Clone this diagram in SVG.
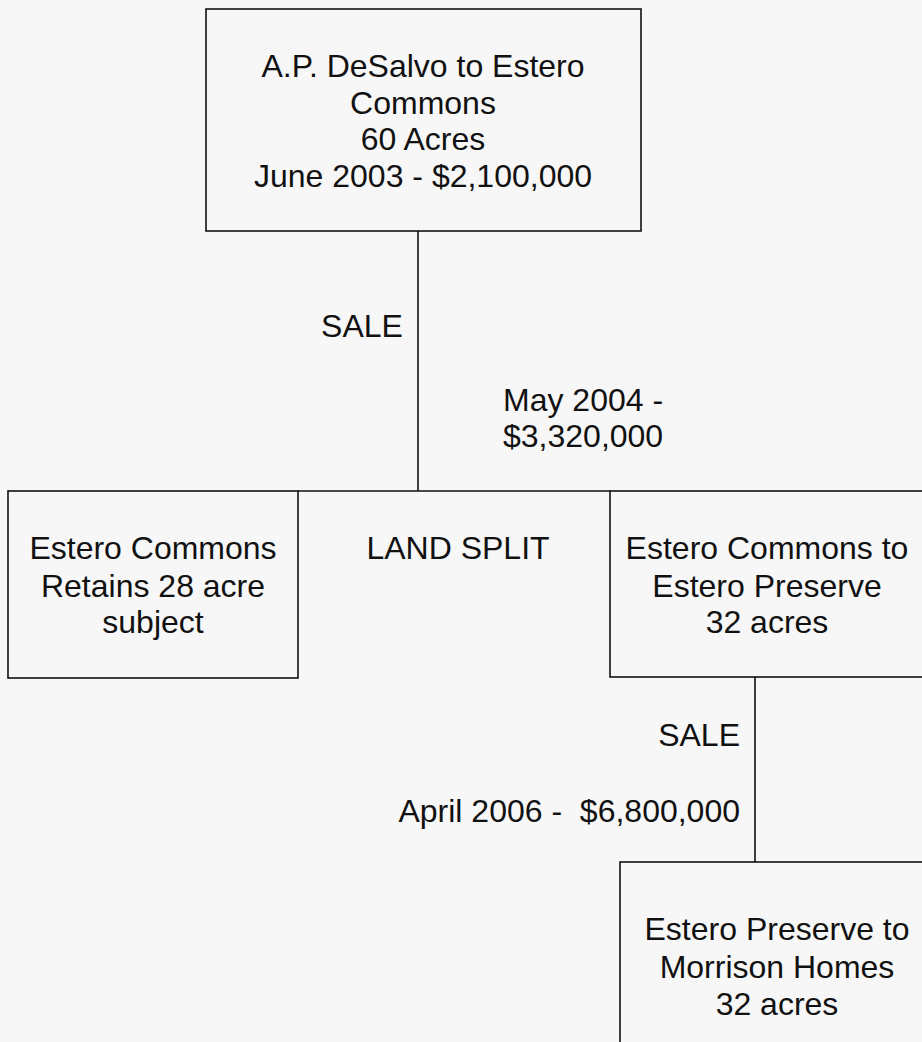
<svg xmlns="http://www.w3.org/2000/svg" width="922" height="1042" viewBox="0 0 922 1042">
<style>
.box{fill:none;stroke:#111;stroke-width:1.6}
.ln{stroke:#111;stroke-width:1.6;fill:none}
text{font-family:"Liberation Sans",Arial,sans-serif;font-size:32px;fill:#111}
.c{text-anchor:middle}
.r{text-anchor:end}
</style>
<rect width="922" height="1042" fill="#f7f7f7"/>
<g id="connectors">
<line class="ln" x1="418" y1="231" x2="418" y2="491"/>
<line class="ln" x1="298" y1="491" x2="610" y2="491"/>
<line class="ln" x1="755" y1="677" x2="755" y2="862"/>
</g>
<g id="labels">
<text x="362" y="337" class="c">SALE</text>
<text x="503" y="411">May 2004 -</text>
<text x="503" y="447">$3,320,000</text>
<text x="458" y="559" class="c">LAND SPLIT</text>
<text x="740" y="746" class="r">SALE</text>
<text x="740" y="822" class="r" xml:space="preserve">April 2006 -  $6,800,000</text>
</g>
<g id="node-top">
<rect class="box" x="206" y="9" width="435" height="222"/>
<text x="423" y="77" class="c">A.P. DeSalvo to Estero</text>
<text x="423" y="114" class="c">Commons</text>
<text x="423" y="150" class="c">60 Acres</text>
<text x="423" y="187" class="c">June 2003 - $2,100,000</text>
</g>
<g id="node-left">
<rect class="box" x="8" y="491" width="290" height="187"/>
<text x="153" y="559" class="c">Estero Commons</text>
<text x="153" y="597" class="c">Retains 28 acre</text>
<text x="153" y="633" class="c">subject</text>
</g>
<g id="node-right">
<rect class="box" x="610" y="491" width="320" height="186"/>
<text x="767" y="559" class="c">Estero Commons to</text>
<text x="767" y="597" class="c">Estero Preserve</text>
<text x="767" y="633" class="c">32 acres</text>
</g>
<g id="node-bottom">
<rect class="box" x="620" y="862" width="310" height="190"/>
<text x="777" y="940" class="c">Estero Preserve to</text>
<text x="777" y="978" class="c">Morrison Homes</text>
<text x="777" y="1015" class="c">32 acres</text>
</g>
</svg>
